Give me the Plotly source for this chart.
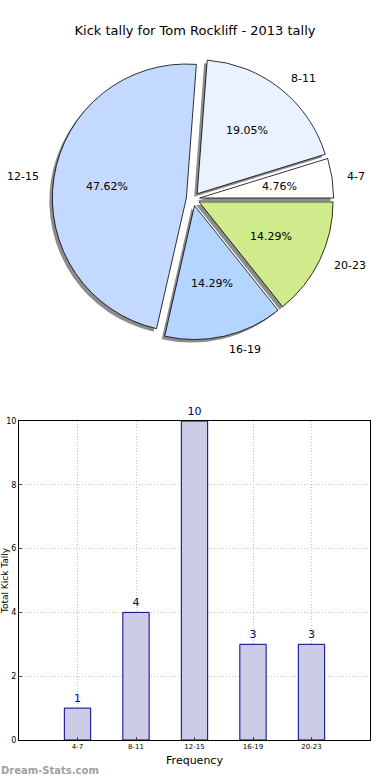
import math
import plotly.graph_objects as go

categories = ["4-7", "8-11", "12-15", "16-19", "20-23"]
kicks = [1, 4, 10, 3, 3]
pie_colors = ["#ffffff", "#eaf1ff", "#c4d9ff", "#b3d5ff", "#d0eb8c"]
y_ticks = [0, 2, 4, 6, 8, 10]
title_text = "Kick tally for Tom Rockliff - 2013 tally"

W, H = 390, 780
pull = 0.05
total = sum(kicks)
# first slice starts at 3 o'clock and runs counterclockwise
rotation = 90 - 360 * kicks[0] / total

def dom(x0, x1, y0, y1):
    return dict(x=[x0 / W, x1 / W], y=[1 - y1 / H, 1 - y0 / H])

cx, cy, r = 193, 199, 134
half = r * (1 + pull)
pie_box = (cx - half, cx + half, cy - half, cy + half)
shadow_box = (pie_box[0] - 3, pie_box[1] - 3, pie_box[2] + 3, pie_box[3] + 3)

fig = go.Figure()

common = dict(labels=categories, values=kicks, sort=False, direction="counterclockwise",
              rotation=rotation, pull=[pull] * len(kicks), hoverinfo="skip",
              textinfo="none", showlegend=False)

# shadow
fig.add_trace(go.Pie(**common, domain=dom(*shadow_box),
                     marker=dict(colors=["#8c8c8c"] * 5, line=dict(width=0))))
# main pie
fig.add_trace(go.Pie(**common, domain=dom(*pie_box),
                     marker=dict(colors=pie_colors, line=dict(color="#000000", width=0.8))))

# slice texts, placed from the slice mid-angles (percent at 0.6 r, label at 1.1 r)
annotations = []
start = 0.0
for cat, v in zip(categories, kicks):
    theta = math.radians((start + v / 2) * 360 / total)
    start += v
    c, s = math.cos(theta), math.sin(theta)
    px, py = cx + pull * r * c, cy - pull * r * s
    annotations.append(dict(text=f"{100 * v / total:.2f}%", x=(px + 0.6 * r * c) / W,
                            y=1 - (py - 0.6 * r * s) / H, xref="paper", yref="paper",
                            xanchor="center", yanchor="middle", showarrow=False,
                            font=dict(size=11, color="#000000")))
    annotations.append(dict(text=cat, x=(px + 1.1 * r * c) / W,
                            y=1 - (py - 1.1 * r * s) / H, xref="paper", yref="paper",
                            xanchor="left" if c > 0 else "right", yanchor="middle",
                            showarrow=False, font=dict(size=11, color="#000000")))

# bar chart
fig.add_trace(go.Bar(x=categories, y=kicks, width=0.45, xaxis="x", yaxis="y",
                     marker=dict(color="#ccccE6", line=dict(color="#00008b", width=1)),
                     text=[str(v) for v in kicks], textposition="outside",
                     textfont=dict(family="DejaVu Sans", size=11, color="#00008b"),
                     cliponaxis=False, showlegend=False, hoverinfo="skip"))

annotations.append(dict(text="<b>Dream-Stats.com</b>", x=0, y=0, xref="paper", yref="paper",
                        xanchor="left", yanchor="bottom", xshift=-1, yshift=2, showarrow=False,
                        font=dict(size=10, color="#a0a0a0", family="DejaVu Sans")))

grid = dict(showgrid=True, gridcolor="#c0c0c0", griddash="1px,2px", gridwidth=1)
fig.update_layout(
    width=W, height=H, margin=dict(l=0, r=0, t=0, b=0),
    paper_bgcolor="white", plot_bgcolor="white",
    font=dict(family="DejaVu Sans", color="#000000"),
    title=dict(text=title_text, x=0.5, xanchor="center", y=1 - 30 / H, yanchor="middle",
               font=dict(size=13, family="DejaVu Sans", color="#000000")),
    xaxis=dict(domain=[19 / W, 370 / W], anchor="y", type="category", automargin=False,
               range=[-1, 5], tickfont=dict(size=7), ticks="inside", ticklen=3,
               showline=True, linecolor="#000000", linewidth=1, mirror=True,
               title=dict(text="Frequency", font=dict(size=11), standoff=5), **grid),
    yaxis=dict(domain=[1 - 740 / H, 1 - 421 / H], anchor="x", range=[0, 10], automargin=False,
               tickvals=y_ticks, tickfont=dict(size=8), ticks="inside", ticklen=3,
               showline=True, linecolor="#000000", linewidth=1, mirror=True,
               zeroline=False,
               title=dict(text="Total Kick Tally", font=dict(size=9), standoff=14), **grid),
    annotations=annotations,
)

fig.write_html("out.html", config={"displayModeBar": False},
               post_script="document.body.style.margin='0';")
